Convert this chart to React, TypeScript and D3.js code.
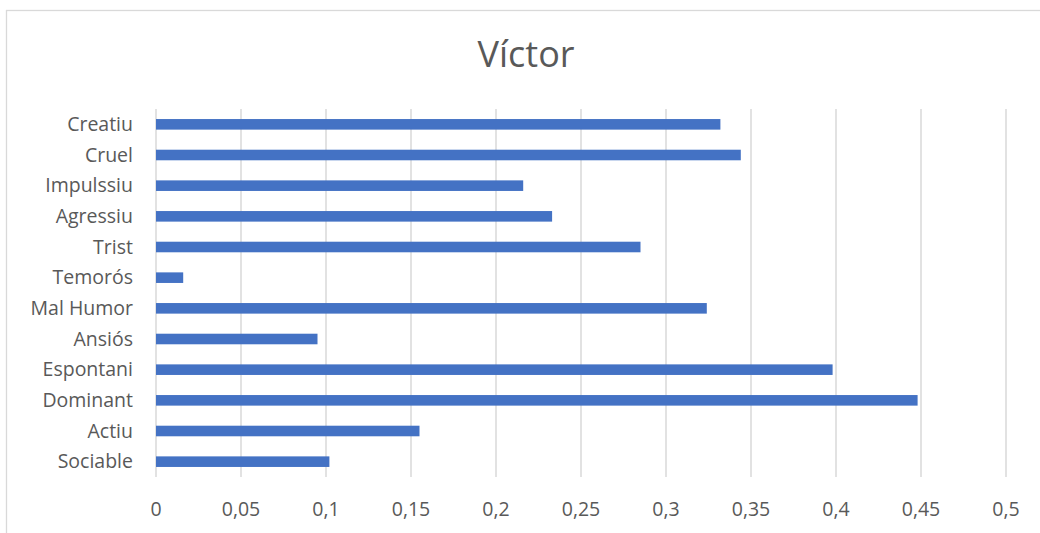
import React from "react";
import * as d3 from "d3";

const categories = ["Creatiu", "Cruel", "Impulssiu", "Agressiu", "Trist", "Temorós", "Mal Humor", "Ansiós", "Espontani", "Dominant", "Actiu", "Sociable"];
const values = [0.332, 0.344, 0.216, 0.233, 0.285, 0.016, 0.324, 0.095, 0.398, 0.448, 0.155, 0.102];
const ticks = [0, 0.05, 0.1, 0.15, 0.2, 0.25, 0.3, 0.35, 0.4, 0.45, 0.5];
const title = "Víctor";

export default function App() {
  const W = 1040, H = 533;
  const x = d3.scaleLinear().domain([0, 0.5]).range([156, 1006]);
  const y = d3.scaleBand().domain(categories).range([109, 477]).paddingInner(0.655).paddingOuter(0.3275);
  const font = "'Open Sans', 'Liberation Sans', sans-serif";
  const fmt = (v: number) => String(+v.toFixed(2)).replace(".", ",");
  return (
    <svg width={W} height={H} style={{ position: "absolute", left: 0, top: 0, background: "#fff" }}>
      <rect x={6.5} y={10.5} width={1100} height={600} fill="#fff" stroke="#d9d9d9" strokeWidth={1.3} />
      <text x={526} y={67} textAnchor="middle" fontFamily={font} fontSize={36} fill="#595959">{title}</text>
      {ticks.map((t) => (
        <line key={t} x1={x(t)} x2={x(t)} y1={109} y2={477} stroke="#d9d9d9" strokeWidth={1.5} />
      ))}
      {categories.map((c, i) => (
        <rect key={c} x={x(0)} y={y(c)!} width={x(values[i]) - x(0)} height={y.bandwidth()} fill="#4472C4" />
      ))}
      {categories.map((c) => (
        <text key={c} x={133} y={y(c)! + y.bandwidth() / 2} dy="0.35em" textAnchor="end" fontFamily={font} fontSize={19.5} fill="#595959">{c}</text>
      ))}
      {ticks.map((t) => (
        <text key={t} x={x(t)} y={509} dy="0.35em" textAnchor="middle" fontFamily={font} fontSize={19.5} fill="#595959">{fmt(t)}</text>
      ))}
    </svg>
  );
}
